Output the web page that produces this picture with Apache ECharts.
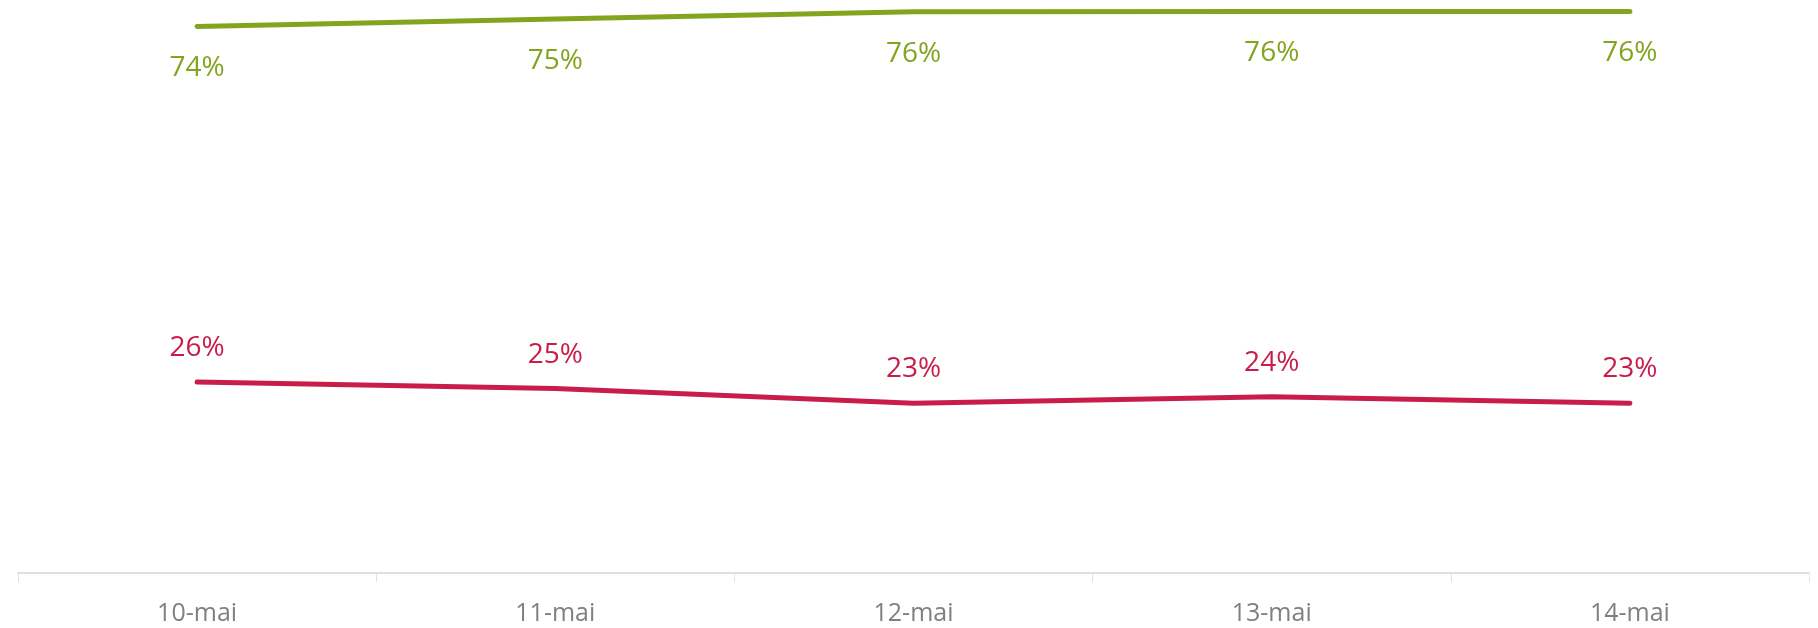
<!DOCTYPE html>
<html>
<head>
<meta charset="utf-8">
<title>chart</title>
<script src="https://cdn.jsdelivr.net/npm/echarts@6/dist/echarts.min.js"></script>
<style>
  html, body { margin: 0; padding: 0; background: #ffffff; }
  #chart { width: 1818px; height: 628px; }
</style>
</head>
<body>
<div id="chart"></div>
<script>
// dates on the x axis
var days = ["10-mai", "11-mai", "12-mai", "13-mai", "14-mai"];
// green series (upper line), percent
var greenValues = [74.4, 75.4, 76.4, 76.45, 76.45];
// red series (lower line), percent
var redValues = [26.0, 25.1, 23.1, 24.0, 23.1];

var fontName = "'Open Sans', 'DejaVu Sans', sans-serif";

function pct(p) {
  return Math.round(p.value) + "%";
}

var chart = echarts.init(document.getElementById("chart"));

var option = {
  animation: false,
  backgroundColor: "#ffffff",
  grid: {
    left: 18,
    right: 9,
    top: 0,
    bottom: 55
  },
  xAxis: {
    type: "category",
    data: days,
    boundaryGap: true,
    axisLine: { lineStyle: { color: "#e0e0e0", width: 2 } },
    axisTick: { show: true, length: 9, interval: 0, lineStyle: { color: "#e0e0e0", width: 1 } },
    axisLabel: {
      color: "#808080",
      fontSize: 25,
      fontFamily: fontName,
      margin: 28
    }
  },
  yAxis: {
    type: "value",
    min: 0,
    max: 78,
    show: false,
    splitLine: { show: false }
  },
  series: [
    {
      name: "green",
      type: "line",
      data: greenValues,
      symbol: "circle",
      symbolSize: 0,
      showSymbol: true,
      lineStyle: { color: "#83a41f", width: 5, cap: "round", join: "round" },
      itemStyle: { color: "#83a41f" },
      label: {
        show: true,
        position: "bottom",
        distance: 28,
        color: "#83a41f",
        fontSize: 28,
        fontFamily: fontName,
        formatter: pct
      }
    },
    {
      name: "red",
      type: "line",
      data: redValues,
      symbol: "circle",
      symbolSize: 0,
      showSymbol: true,
      lineStyle: { color: "#c81d4b", width: 5, cap: "round", join: "round" },
      itemStyle: { color: "#c81d4b" },
      label: {
        show: true,
        position: "top",
        distance: 20,
        color: "#c81d4b",
        fontSize: 28,
        fontFamily: fontName,
        formatter: pct
      }
    }
  ]
};

chart.setOption(option);
</script>
</body>
</html>
